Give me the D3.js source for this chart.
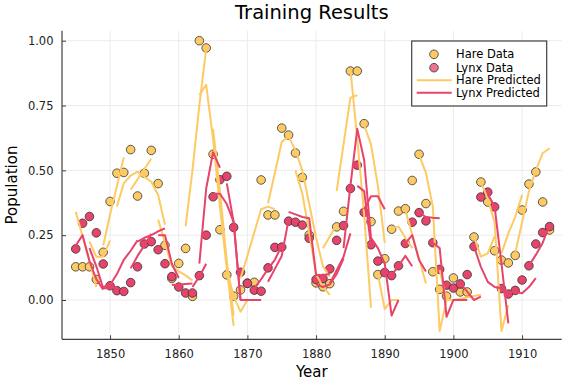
<!DOCTYPE html>
<html lang="en">
<head>
<meta charset="UTF-8">
<title>Training Results</title>
<style>
  body { margin: 0; background: #fff; }
  svg { font-family: "DejaVu Sans", sans-serif; }
  .grid line { stroke: #ebebeb; stroke-width: 1; }
  .pred { fill: none; stroke-width: 2; stroke-linejoin: round; }
</style>
</head>
<body>
<div id="chart"></div>
<script src="https://d3js.org/d3.v7.min.js"></script>
<script>
// observed data, scaled by the hare maximum
var years = d3.range(1845, 1915);
var hare = [0.128, 0.128, 0.128, 0.079, 0.184, 0.380, 0.489, 0.492, 0.580, 0.401,
            0.489, 0.577, 0.449, 0.211, 0.083, 0.141, 0.199, 0.014, 1.000, 0.972,
            0.562, 0.271, 0.097, 0.015, 0.039, 0.065, 0.068, 0.463, 0.328, 0.328,
            0.663, 0.636, 0.567, 0.473, 0.251, 0.066, 0.051, 0.063, 0.282, 0.342,
            0.883, 0.883, 0.680, 0.302, 0.098, 0.159, 0.273, 0.343, 0.352, 0.461,
            0.562, 0.372, 0.109, 0.041, 0.015, 0.085, 0.031, 0.031, 0.243, 0.455,
            0.378, 0.190, 0.154, 0.143, 0.172, 0.347, 0.447, 0.494, 0.378, 0.270];
var lynx = [0.197, 0.296, 0.322, 0.259, 0.139, 0.055, 0.036, 0.033, 0.067, 0.128,
            0.216, 0.225, 0.194, 0.140, 0.090, 0.050, 0.027, 0.027, 0.094, 0.250,
            0.398, 0.464, 0.477, 0.280, 0.107, 0.064, 0.038, 0.034, 0.124, 0.203,
            0.204, 0.304, 0.300, 0.289, 0.238, 0.079, 0.083, 0.120, 0.230, 0.287,
            0.430, 0.520, 0.338, 0.213, 0.150, 0.106, 0.094, 0.132, 0.218, 0.300,
            0.337, 0.305, 0.221, 0.118, 0.057, 0.046, 0.062, 0.098, 0.206, 0.397,
            0.416, 0.359, 0.044, 0.023, 0.037, 0.077, 0.132, 0.216, 0.260, 0.283];

// predicted trajectories, one [start year, yearly values] pair per shooting segment
var harePred = [
  [1845, [0.34, 0.245, 0.15, 0.05]],
  [1847, [0.225, 0.167, 0.167, 0.23]],
  [1849, [0.21, 0.33, 0.44, 0.55]],
  [1851, [0.36, 0.45, 0.48, 0.495, 0.475, 0.456, 0.405, 0.29]],
  [1853, [0.425, 0.465, 0.505, 0.545]],
  [1857, [0.31, 0.22, 0.13, 0.11, 0.095, 0.075]],
  [1861, [0.285, 0.50, 0.75, 0.97]],
  [1863, [0.79, 0.83, 0.62, 0.36, 0.12, -0.10]],
  [1865, [0.66, 0.42, 0.15, -0.06]],
  [1867, [0.12, 0.013, -0.045, 0.0]],
  [1869, [0.084, 0.17, 0.26, 0.35, 0.36, 0.35]],
  [1873, [0.373, 0.49, 0.61, 0.63, 0.578, 0.50, 0.37, 0.24, 0.13, 0.09]],
  [1877, [0.50, 0.41, 0.26, 0.10, 0.05, 0.02]],
  [1881, [0.20, 0.245, 0.29]],
  [1883, [0.42, 0.60, 0.78, 0.79]],
  [1885, [0.89, 0.62, 0.33, -0.03]],
  [1887, [0.675, 0.60, 0.44, 0.22]],
  [1889, [0.10, -0.035, 0.0, 0.0]],
  [1891, [0.276, 0.283, 0.24, 0.20]],
  [1893, [0.347, 0.253, 0.16, 0.064]],
  [1895, [0.56, 0.49, 0.36, -0.12, 0.0]],
  [1898, [0.116, 0.0, 0.0, 0.005, 0.01, 0.015, 0.02]],
  [1903, [0.244, 0.167, 0.18, 0.245]],
  [1904, [0.455, 0.39, 0.30, -0.12, -0.02]],
  [1907, [0.18, 0.257, 0.32, 0.405]],
  [1909, [0.18, 0.30, 0.42, 0.50, 0.566, 0.585]]
];
var lynxPred = [
  [1845, [0.21, 0.25, 0.15, 0.08, 0.04]],
  [1847, [0.20, 0.13, 0.045, 0.045, 0.05]],
  [1849, [0.05, 0.058, 0.10, 0.155, 0.19, 0.23]],
  [1853, [0.122, 0.17, 0.21, 0.255]],
  [1854, [0.225, 0.24, 0.25, 0.265, 0.276]],
  [1857, [0.25, 0.25, 0.14, 0.085]],
  [1859, [0.058, 0.06, 0.062, 0.064]],
  [1862, [0.05, 0.09, 0.14]],
  [1863, [0.14, 0.43, 0.57, 0.51]],
  [1865, [0.41, 0.41, 0.37, 0.30, 0.0, 0.0, 0.0, 0.0]],
  [1867, [0.45, 0.30, 0.0]],
  [1871, [0.045, 0.08, 0.12, 0.155, 0.21]],
  [1873, [0.07, 0.12, 0.17, 0.31]],
  [1876, [0.34, 0.33, 0.32, 0.315, 0.096, 0.096, 0.10]],
  [1880, [0.06, 0.05, 0.06, 0.10, 0.16]],
  [1882, [0.064, 0.115, 0.167, 0.257]],
  [1884, [0.20, 0.44, 0.66, 0.54, 0.24]],
  [1886, [0.44, 0.42, 0.21]],
  [1887, [0.35, 0.40, 0.40, 0.35]],
  [1888, [0.24, 0.20, 0.14, -0.06, 0.0]],
  [1890, [0.11, 0.096, 0.131, 0.17, 0.13]],
  [1893, [0.218, 0.25, 0.154, 0.11]],
  [1895, [0.337, 0.32, 0.317, 0.315]],
  [1897, [0.221, 0.20, -0.065, 0.0, 0.0, 0.0]],
  [1901, [0.064, 0.032, 0.0, 0.013]],
  [1903, [0.206, 0.128, 0.07, 0.05, 0.045]],
  [1905, [0.41, 0.36, 0.14, -0.09]],
  [1907, [0.04, 0.032, 0.03, 0.026, 0.05, 0.084]],
  [1911, [0.132, 0.174, 0.22, 0.29]]
];

var xTicks = [1850, 1860, 1870, 1880, 1890, 1900, 1910];
var yTicks = [0, 0.25, 0.5, 0.75, 1];
var legendItems = ["Hare Data", "Lynx Data", "Hare Predicted", "Lynx Predicted"];

var hareColor = "#fdca63";
var lynxColor = "#e8436b";

var width = 576, height = 384;
var plotL = 62, plotR = 561.7, plotT = 30.7, plotB = 339.3;

var svg = d3.select("#chart").append("svg")
  .attr("width", width)
  .attr("height", height);

var x = d3.scaleLinear().domain([1843, 1915.77]).range([plotL, plotR]);
var y = d3.scaleLinear().domain([-0.1516, 1.0386]).range([plotB, plotT]);

// grid
var grid = svg.append("g").attr("class", "grid");
grid.selectAll(".gx").data(xTicks).enter().append("line")
  .attr("x1", function(d) { return x(d); }).attr("x2", function(d) { return x(d); })
  .attr("y1", plotT).attr("y2", plotB);
grid.selectAll(".gy").data(yTicks).enter().append("line")
  .attr("x1", plotL).attr("x2", plotR)
  .attr("y1", function(d) { return y(d); }).attr("y2", function(d) { return y(d); });

// axes, ticks pointing inward
var xAxis = svg.append("g")
  .attr("transform", "translate(0," + plotB + ")")
  .call(d3.axisBottom(x).tickValues(xTicks).tickFormat(d3.format("d")).tickSizeInner(-4).tickSizeOuter(0).tickPadding(11));
var yAxis = svg.append("g")
  .attr("transform", "translate(" + plotL + ",0)")
  .call(d3.axisLeft(y).tickValues(yTicks).tickFormat(d3.format(".2f")).tickSizeInner(-4).tickSizeOuter(0).tickPadding(8.5));
[xAxis, yAxis].forEach(function(a) {
  a.select(".domain").attr("stroke", "#404040").attr("stroke-width", 1.2);
  a.selectAll(".tick line").attr("stroke", "#404040");
  a.selectAll(".tick text").attr("fill", "#222").style("font-size", "11.5px")
    .style("font-family", "DejaVu Sans, sans-serif");
});
xAxis.select(".domain").attr("d", "M" + plotL + ",0H" + plotR);
yAxis.select(".domain").attr("d", "M0," + plotB + "V" + plotT);

// observed points
function drawPoints(vals, color) {
  svg.append("g").selectAll("circle").data(vals).enter().append("circle")
    .attr("cx", function(d, i) { return x(years[i]); })
    .attr("cy", function(d) { return y(d); })
    .attr("r", 4.3)
    .attr("fill", color)
    .attr("stroke", "#333")
    .attr("stroke-width", 0.8);
}
drawPoints(hare, hareColor);
drawPoints(lynx, lynxColor);

// predicted segments
var line = d3.line()
  .x(function(d) { return x(d[0]); })
  .y(function(d) { return y(d[1]); });

function drawPred(segs, color) {
  svg.append("g").selectAll("path").data(segs).enter().append("path")
    .attr("class", "pred")
    .attr("stroke", color)
    .attr("d", function(s) {
      return line(s[1].map(function(v, i) { return [s[0] + i, v]; }));
    });
}
drawPred(harePred, hareColor);
drawPred(lynxPred, lynxColor);

// titles
svg.append("text")
  .attr("x", (plotL + plotR) / 2).attr("y", 19)
  .attr("text-anchor", "middle")
  .style("font-size", "19.5px")
  .text("Training Results");
svg.append("text")
  .attr("x", (plotL + plotR) / 2).attr("y", 376.5)
  .attr("text-anchor", "middle")
  .style("font-size", "15px")
  .text("Year");
svg.append("text")
  .attr("transform", "translate(17," + ((plotT + plotB) / 2) + ") rotate(-90)")
  .attr("text-anchor", "middle")
  .style("font-size", "15px")
  .text("Population");

// legend
var lg = svg.append("g");
lg.append("rect")
  .attr("x", 411.7).attr("y", 41).attr("width", 135).attr("height", 65)
  .attr("fill", "#fff").attr("stroke", "#404040").attr("stroke-width", 1.2);
var rows = [54.3, 67.7, 80.3, 92.8];
legendItems.forEach(function(name, i) {
  var color = (i % 2 === 0) ? hareColor : lynxColor;
  if (i < 2) {
    lg.append("circle").attr("cx", 434).attr("cy", rows[i]).attr("r", 4.3)
      .attr("fill", color).attr("fill-opacity", i === 1 ? 0.75 : 1)
      .attr("stroke", "#333").attr("stroke-width", 0.8);
  } else {
    lg.append("line").attr("x1", 416.7).attr("x2", 451.7)
      .attr("y1", rows[i]).attr("y2", rows[i])
      .attr("stroke", color).attr("stroke-width", 2);
  }
  lg.append("text").attr("x", 456).attr("y", rows[i]).attr("dy", "0.36em")
    .style("font-size", "11.5px").text(name);
});
</script>
</body>
</html>
